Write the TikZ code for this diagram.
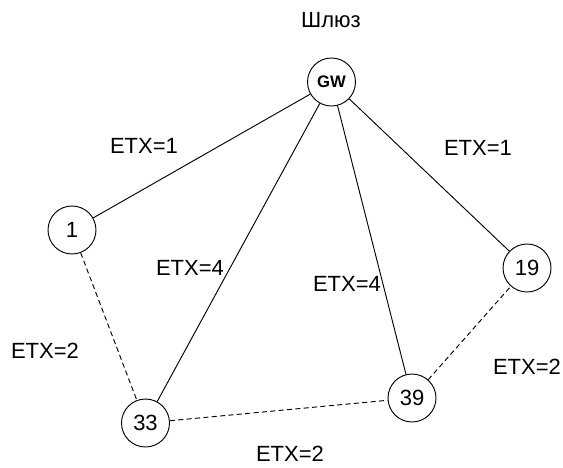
\documentclass[tikz,border=0pt]{standalone}
\usepackage{fontspec}
\setmainfont{Liberation Sans}
\usepackage{tikz}
\usetikzlibrary{calc}

\begin{document}
\begin{tikzpicture}[x=0.75pt,y=0.75pt,yscale=-1,xscale=1,
  vertex/.style={draw,circle,line width=0.7pt,minimum size=36pt,inner sep=0pt,font=\fontsize{16.5}{19}\selectfont},
  lbl/.style={font=\fontsize{16.5}{19}\selectfont},
  link/.style={line width=0.7pt},
  weak/.style={line width=0.7pt,dash pattern=on 3.8pt off 2.5pt}]
\useasboundingbox (0,0) rectangle (563,467);
%Shape: Circle [gateway]
\node [vertex,font=\fontsize{12.5}{14}\selectfont\bfseries] (gw) at (331.5,82) {GW};
\node [lbl] (gwname) at (331,20) {Шлюз};
%Shape: Circle [sensors]
\node [vertex] (n1) at (72,230) {1};
\node [vertex] (n19) at (527,268) {19};
\node [vertex] (n33) at (145.5,423) {33};
\node [vertex] (n39) at (412,398) {39};
%Straight Lines
\draw [link] (gw) -- (n1);
\draw [link] (gw) -- (n33);
\draw [link] (gw) -- (n39);
\draw [link] (gw) -- (n19);
\draw [weak] (n1) -- (n33);
\draw [weak] (n33) -- (n39);
\draw [weak] (n39) -- (n19);
%Text
\node [lbl] (l1) at (144,146) {ETX=1};
\node [lbl] (l2) at (478,148) {ETX=1};
\node [lbl] (l3) at (190,268) {ETX=4};
\node [lbl] (l4) at (347,284) {ETX=4};
\node [lbl] (l5) at (45,351) {ETX=2};
\node [lbl] (l6) at (527,367) {ETX=2};
\node [lbl] (l7) at (290,454) {ETX=2};
\end{tikzpicture}
\end{document}
